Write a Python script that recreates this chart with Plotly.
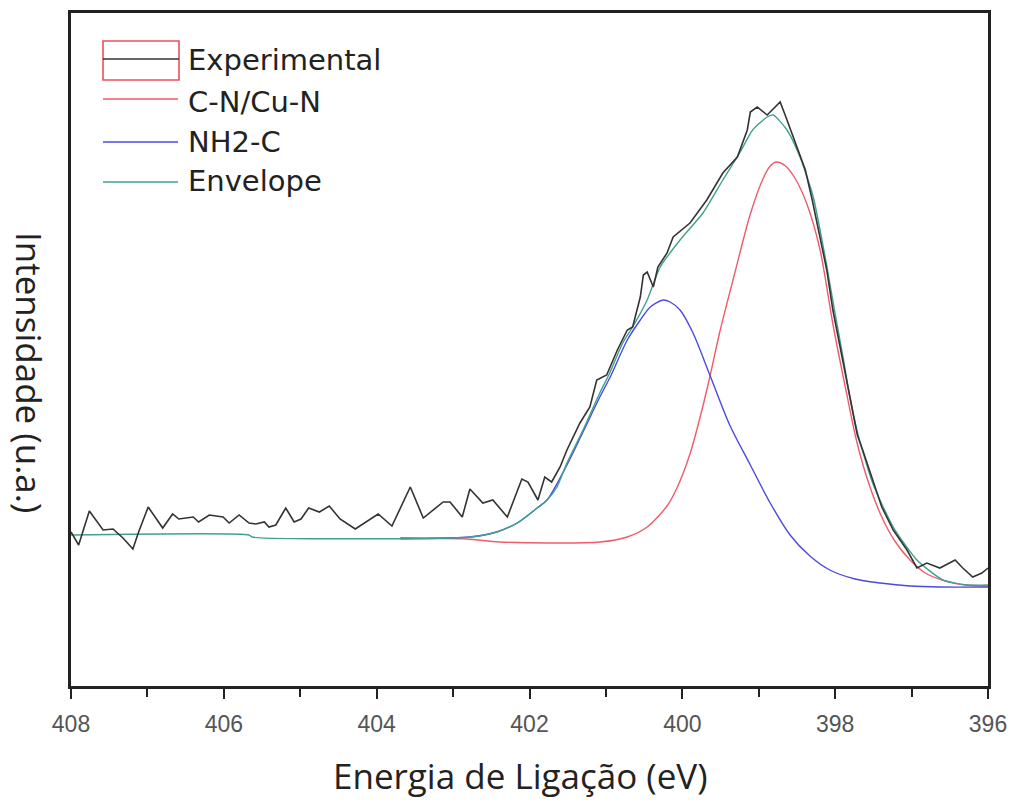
import plotly.graph_objects as go

# ---------------- data ----------------
exp_E = [408.00, 407.90, 407.76, 407.58, 407.45, 407.32, 407.19, 407.12, 406.99, 406.80,
         406.67, 406.59, 406.40, 406.33, 406.19, 406.01, 405.93, 405.80, 405.67, 405.58,
         405.47, 405.41, 405.32, 405.19, 405.08, 404.99, 404.89, 404.75, 404.62, 404.48,
         404.28, 403.98, 403.80, 403.56, 403.39, 403.13, 403.04, 402.88, 402.78, 402.61,
         402.48, 402.29, 402.10, 402.02, 401.89, 401.80, 401.71, 401.60, 401.51, 401.34,
         401.21, 401.12, 400.99, 400.85, 400.72, 400.65, 400.55, 400.51, 400.46, 400.38,
         400.32, 400.20, 400.12, 399.90, 399.68, 399.47, 399.28, 399.21, 399.15, 399.11,
         399.02, 398.89, 398.72, 398.63, 398.50, 398.39, 398.30, 398.20, 398.11, 398.03,
         397.94, 397.83, 397.71, 397.64, 397.51, 397.39, 397.24, 397.06, 396.93, 396.80,
         396.63, 396.43, 396.33, 396.20, 396.08, 396.00]
exp_I = [154, 141, 175, 156, 157, 148, 137, 153, 179, 158,
         172, 167, 169, 164, 171, 169, 163, 171, 163, 162,
         164, 159, 161, 178, 164, 167, 178, 174, 180, 167,
         157, 172, 160, 199, 168, 184, 184, 169, 197, 183,
         186, 169, 207, 204, 186, 209, 204, 219, 236, 263,
         279, 306, 311, 336, 356, 359, 389, 411, 414, 399,
         419, 433, 449, 463, 486, 513, 529, 543, 556, 574,
         579, 571, 584, 566, 539, 516, 486, 451, 416, 376,
         341, 296, 251, 236, 206, 179, 156, 136, 118, 123,
         118, 126, 118, 109, 113, 118]

env_E = [408.00, 405.67, 405.63, 402.78, 402.43, 402.16, 401.90, 401.77, 401.64, 401.51,
         401.30, 401.08, 400.95, 400.78, 400.65, 400.46, 400.29, 400.03, 399.73, 399.47,
         399.25, 399.08, 398.89, 398.81, 398.63, 398.46, 398.29, 398.20, 398.11, 398.00,
         397.90, 397.81, 397.71, 397.51, 397.24, 396.93, 396.59, 396.27, 396.00]
env_I = [151, 151, 149, 149, 154, 163, 178, 186, 199, 223,
         256, 293, 313, 343, 359, 386, 419, 446, 473, 506,
         533, 556, 569, 571, 556, 529, 490, 457, 420, 372,
         330, 290, 254, 203, 159, 126, 106, 101, 101]

cn_E = [403.69, 402.82, 402.39, 401.08, 400.72, 400.46, 400.20, 400.07, 399.90, 399.77,
        399.64, 399.51, 399.31, 399.11, 398.94, 398.85, 398.77, 398.65, 398.52, 398.37,
        398.20, 398.03, 397.87, 397.71, 397.54, 397.39, 397.22, 397.02, 396.82, 396.56,
        396.30, 396.00]
cn_I = [147, 147, 144, 144, 149, 159, 180, 198, 232, 268,
        309, 354, 414, 472, 508, 520, 524, 520, 507, 482,
        437, 362, 300, 242, 198, 169, 145, 126, 113, 105,
        101, 100]

nh_E = [403.69, 402.78, 402.43, 402.16, 401.90, 401.77, 401.51, 401.30, 401.08, 400.95,
        400.72, 400.55, 400.42, 400.25, 400.16, 400.03, 399.86, 399.64, 399.38, 399.11,
        398.85, 398.59, 398.33, 398.07, 397.74, 397.41, 397.02, 396.63, 396.00]
nh_I = [148, 149, 154, 163, 178, 186, 221, 254, 289, 308,
        346, 366, 379, 386, 384, 376, 353, 311, 261, 221,
        183, 151, 130, 116, 107, 103, 100, 99, 99]

x_tick_vals = [408, 406, 404, 402, 400, 398, 396]
x_tick_text = ["408", "406", "404", "402", "400", "398", "396"]
series_names = ["Experimental", "C-N/Cu-N", "NH2-C", "Envelope"]
x_title = "Energia de Ligação (eV)"
y_title = "Intensidade (u.a.)"

# ---------------- styling ----------------
COL_EXP = "#333333"
COL_CN = "#f05a6a"
COL_NH = "#4a4ae0"
COL_ENV = "#40a090"

W, H = 1013, 805
L, R, T, B = 71, 988, 13, 686


def pxx(x):
    return (x - L) / (R - L)


def pxy(y):
    return (B - y) / (B - T)


fig = go.Figure()
fig.add_trace(go.Scatter(x=cn_E, y=cn_I, mode="lines", name=series_names[1],
                         line=dict(color=COL_CN, width=1.4, shape="spline", smoothing=0.8)))
fig.add_trace(go.Scatter(x=nh_E, y=nh_I, mode="lines", name=series_names[2],
                         line=dict(color=COL_NH, width=1.4, shape="spline", smoothing=0.8)))
fig.add_trace(go.Scatter(x=env_E, y=env_I, mode="lines", name=series_names[3],
                         line=dict(color=COL_ENV, width=1.4, shape="spline", smoothing=0.6)))
fig.add_trace(go.Scatter(x=exp_E, y=exp_I, mode="lines", name=series_names[0],
                         line=dict(color=COL_EXP, width=1.6)))

# manual legend (Origin-style)
shapes = []
shapes.append(dict(type="rect", xref="paper", yref="paper",
                   x0=pxx(103), x1=pxx(179), y0=pxy(80), y1=pxy(41),
                   line=dict(color="#e8505e", width=1.6), fillcolor="rgba(0,0,0,0)"))
shapes.append(dict(type="line", xref="paper", yref="paper",
                   x0=pxx(103), x1=pxx(179), y0=pxy(59), y1=pxy(59),
                   line=dict(color=COL_EXP, width=1.6)))
leg_lines = [(99, COL_CN), (142, COL_NH), (182, COL_ENV)]
for yy, c in leg_lines:
    shapes.append(dict(type="line", xref="paper", yref="paper",
                       x0=pxx(103), x1=pxx(178), y0=pxy(yy), y1=pxy(yy),
                       line=dict(color=c, width=1.6)))

annotations = []
leg_text_y = [60, 102, 142, 181]
for name, yy in zip(series_names, leg_text_y):
    annotations.append(dict(text=name, xref="paper", yref="paper",
                            x=pxx(186), y=pxy(yy), xanchor="left", yanchor="middle",
                            showarrow=False,
                            font=dict(family="DejaVu Sans", size=29, color="#222222")))

annotations.append(dict(text=y_title, xref="paper", yref="paper",
                        x=pxx(30), y=pxy(372), xanchor="center", yanchor="middle",
                        textangle=90, showarrow=False,
                        font=dict(family="Open Sans", size=35, color="#222222")))
annotations.append(dict(text=x_title, xref="paper", yref="paper",
                        x=pxx(520), y=pxy(775), xanchor="center", yanchor="middle",
                        showarrow=False,
                        font=dict(family="Open Sans", size=35, color="#222222")))

fig.update_layout(
    width=W, height=H, autosize=False,
    margin=dict(l=L, r=W - R, t=T, b=H - B, pad=0, autoexpand=False),
    paper_bgcolor="white", plot_bgcolor="white",
    showlegend=False,
    shapes=shapes,
    annotations=annotations,
    xaxis=dict(range=[408, 396], tickvals=x_tick_vals, ticktext=x_tick_text,
               automargin=False,
               showgrid=False, zeroline=False,
               showline=True, linecolor="#222222", linewidth=2.5, mirror=True,
               ticks="outside", ticklen=10, tickwidth=2, tickcolor="#222222",
               minor=dict(dtick=1, tick0=396, ticks="outside", ticklen=8,
                          tickwidth=2, tickcolor="#222222", showgrid=False),
               ticklabelstandoff=6,
               tickfont=dict(family="Liberation Sans Narrow, Arial Narrow, sans-serif",
                             size=23, color="#555555")),
    yaxis=dict(range=[0, B - T], showticklabels=False, ticks="",
               automargin=False,
               showgrid=False, zeroline=False,
               showline=True, linecolor="#222222", linewidth=2.5, mirror=True),
)

fig.write_html("out.html")
